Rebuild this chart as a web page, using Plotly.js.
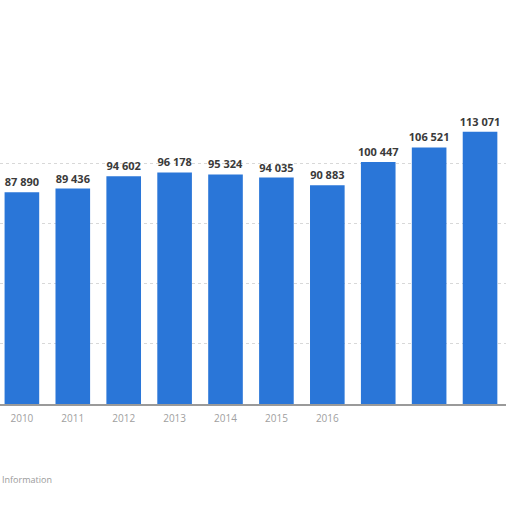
<!DOCTYPE html>
<html>
<head>
<meta charset="utf-8">
<script src="https://cdn.plot.ly/plotly-3.0.1.min.js"></script>
<style>
  html, body { margin: 0; padding: 0; background: #fff; }
  #chart { width: 512px; height: 512px; }
</style>
</head>
<body>
<div id="chart"></div>
<script>
// years shown on the x axis, one bar each
const years = ['2010', '2011', '2012', '2013', '2014', '2015', '2016', '2017', '2018', '2019'];
const values = [87890, 89436, 94602, 96178, 95324, 94035, 90883, 100447, 106521, 113071];
// only the first labels are readable in the picture
const tickLabels = ['2010', '2011', '2012', '2013', '2014', '2015', '2016'];

const trace = {
    type: 'bar',
    x: years,
    y: values,
    marker: { color: '#2a76d8' },
    texttemplate: '%{y:,}',
    textposition: 'outside',
    constraintext: 'none',
    cliponaxis: false,
    textfont: { family: 'Open Sans, sans-serif', size: 11, color: '#3a3a3a', weight: 'bold' },
    hoverinfo: 'none'
};

const layout = {
    width: 512,
    height: 512,
    margin: { l: 0, r: 6, t: 102, b: 108, pad: 0 },
    paper_bgcolor: '#ffffff',
    plot_bgcolor: '#ffffff',
    separators: '. ',
    bargap: 0.32,
    showlegend: false,
    xaxis: {
        type: 'category',
        range: [-0.43, 9.51],
        tickvals: tickLabels,
        ticktext: tickLabels,
        showgrid: false,
        showline: true,
        linecolor: '#9a9a9a',
        linewidth: 2,
        ticks: '',
        ticklabelstandoff: 4,
        tickfont: { family: 'Open Sans, sans-serif', size: 10, color: '#a0a0a0' }
    },
    yaxis: {
        range: [0, 125400],
        dtick: 25000,
        showticklabels: false,
        gridcolor: '#d8d8d8',
        griddash: 'dot',
        zeroline: false
    },
    annotations: [{
        xref: 'paper', yref: 'paper',
        x: 0, y: -0.25,
        xanchor: 'left', yanchor: 'middle',
        text: 'Information',
        showarrow: false,
        font: { family: 'Open Sans, sans-serif', size: 9, color: '#9a9a9a' }
    }]
};

Plotly.newPlot('chart', [trace], layout, { displayModeBar: false, staticPlot: true });
</script>
</body>
</html>
